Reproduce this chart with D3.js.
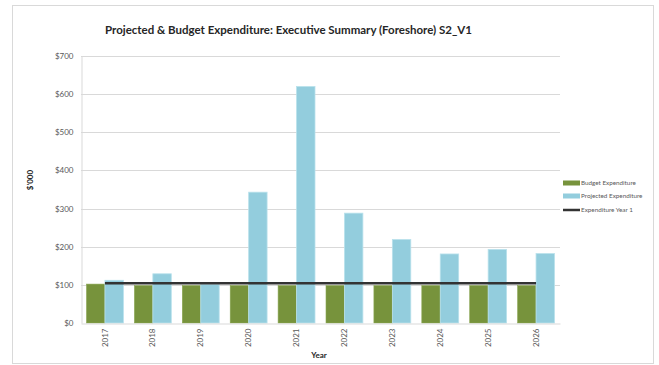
<!DOCTYPE html>
<html>
<head>
<meta charset="utf-8">
<script src="https://cdn.jsdelivr.net/npm/d3@7"></script>
<style>
  html, body { margin: 0; padding: 0; background: #fff; }
  svg { display: block; }
  text { font-family: Lato, "Open Sans", sans-serif; }
</style>
</head>
<body>
<svg id="chart" width="659" height="365"></svg>
<script>
// Expenditure by year, in $'000
const years = ["2017", "2018", "2019", "2020", "2021", "2022", "2023", "2024", "2025", "2026"];
const budgetExpenditure = [102, 98, 98, 98, 98, 98, 98, 98, 98, 98];
const projectedExpenditure = [112, 129, 101, 343, 620, 288, 219, 181, 193, 182];
const expenditureYear1 = [104, 104, 104, 104, 104, 104, 104, 104, 104, 104];
const yTicks = [0, 100, 200, 300, 400, 500, 600, 700];
const seriesNames = ["Budget Expenditure", "Projected Expenditure", "Expenditure Year 1"];

const colors = { budget: "#77933c", projected: "#93cddd", line: "#333333" };

const svg = d3.select("#chart");

// outer chart frame
svg.append("rect")
  .attr("x", 12.5).attr("y", 5.5).attr("width", 641).attr("height", 358)
  .attr("fill", "#fff").attr("stroke", "#d9d9d9");

const plot = { left: 81, right: 560, top: 56, bottom: 323 };

const x = d3.scaleBand().domain(years)
  .range([plot.left, plot.right])
  .paddingInner(0.23).paddingOuter(0.115);
const y = d3.scaleLinear().domain([0, 700]).range([plot.bottom, plot.top]);

// gridlines
svg.append("g").selectAll("line").data(yTicks.filter(d => d > 0)).join("line")
  .attr("x1", plot.left).attr("x2", plot.right)
  .attr("y1", d => Math.round(y(d)) + 0.5).attr("y2", d => Math.round(y(d)) + 0.5)
  .attr("stroke", "#d9d9d9").attr("stroke-width", 1);

// y axis
const yAxis = svg.append("g")
  .attr("transform", `translate(${plot.left + 0.5},0)`)
  .call(d3.axisLeft(y).tickValues(yTicks).tickSize(0).tickPadding(8).tickFormat(d => "$" + d));
yAxis.select(".domain").attr("stroke", "#d9d9d9");
yAxis.selectAll("text").attr("fill", "#595959").attr("font-size", 8);

// bars
const half = x.bandwidth() / 2;
const xs = d3.scaleBand().domain(["budget", "projected"]).range([0, x.bandwidth()]);

svg.append("g").selectAll("rect").data(years).join("rect")
  .attr("x", (d) => x(d) + xs("budget"))
  .attr("y", (d, i) => y(budgetExpenditure[i]))
  .attr("width", xs.bandwidth())
  .attr("height", (d, i) => y(0) - y(budgetExpenditure[i]))
  .attr("fill", colors.budget)
  .attr("stroke", "#8aa653").attr("stroke-width", 0.6);

svg.append("g").selectAll("rect").data(years).join("rect")
  .attr("x", (d) => x(d) + xs("projected"))
  .attr("y", (d, i) => y(projectedExpenditure[i]))
  .attr("width", xs.bandwidth())
  .attr("height", (d, i) => y(0) - y(projectedExpenditure[i]))
  .attr("fill", colors.projected)
  .attr("stroke", "#b9e1ec").attr("stroke-width", 0.8);

// x axis
const xAxis = svg.append("g")
  .attr("transform", `translate(0,${plot.bottom + 0.5})`)
  .call(d3.axisBottom(x).tickSize(0).tickSizeOuter(0));
xAxis.select(".domain").attr("stroke", "#d9d9d9");
xAxis.selectAll("text")
  .attr("fill", "#595959").attr("font-size", 8)
  .attr("transform", "rotate(-90)")
  .attr("text-anchor", "end")
  .attr("dy", "0.32em")
  .attr("x", -5).attr("y", 0);

// expenditure year 1 line
const line = d3.line()
  .x((d, i) => x(years[i]) + half)
  .y(d => y(d));
svg.append("path")
  .datum(expenditureYear1)
  .attr("d", line)
  .attr("fill", "none")
  .attr("stroke", colors.line)
  .attr("stroke-width", 2.5);

// title
svg.append("text")
  .attr("x", 105).attr("y", 34)
  .attr("font-size", 12).attr("font-weight", "bold").attr("fill", "#262626")
  .attr("textLength", 367).attr("lengthAdjust", "spacingAndGlyphs")
  .text("Projected & Budget Expenditure: Executive Summary (Foreshore) S2_V1");

// axis titles
svg.append("text")
  .attr("transform", "translate(33,180) rotate(-90)")
  .attr("text-anchor", "middle")
  .attr("font-size", 8).attr("font-weight", "bold").attr("fill", "#262626")
  .text("$'000");

svg.append("text")
  .attr("x", 319).attr("y", 358)
  .attr("text-anchor", "middle")
  .attr("font-size", 8).attr("font-weight", "bold").attr("fill", "#262626")
  .text("Year");

// legend
const legend = svg.append("g").attr("transform", "translate(563,0)");
const legendY = [183, 196, 210];
seriesNames.forEach((name, i) => {
  const g = legend.append("g").attr("transform", `translate(0,${legendY[i]})`);
  if (i < 2) {
    g.append("rect").attr("x", 0).attr("y", -2.5).attr("width", 17).attr("height", 5)
      .attr("fill", i === 0 ? colors.budget : colors.projected);
  } else {
    g.append("line").attr("x1", 0).attr("x2", 17).attr("y1", 0).attr("y2", 0)
      .attr("stroke", colors.line).attr("stroke-width", 2.5);
  }
  g.append("text").attr("x", 18).attr("y", 0).attr("dy", "0.35em")
    .attr("font-size", 6.3).attr("fill", "#595959")
    .text(name);
});
</script>
</body>
</html>
